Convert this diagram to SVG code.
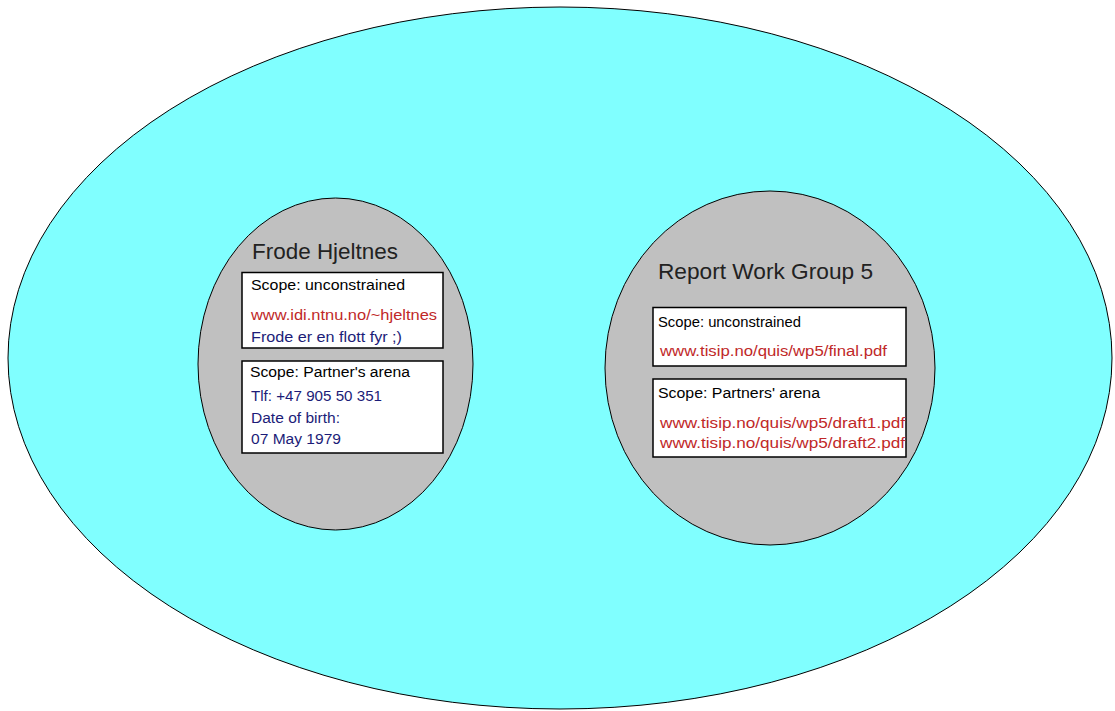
<svg xmlns="http://www.w3.org/2000/svg" width="1115" height="711" viewBox="0 0 1115 711">
<style>
.bg{fill:#ffffff}
.outer{fill:#80ffff;stroke:#000;stroke-width:1}
.inner{fill:#c0c0c0;stroke:#000;stroke-width:1}
.box{fill:#fff;stroke:#000;stroke-width:1.5}
text{font-family:"Liberation Sans",Arial,sans-serif}
.title{font-size:22px;fill:#222}
.t{font-size:15.5px;fill:#000}
.r{font-size:15.5px;fill:#c02828}
.b{font-size:15.5px;fill:#1c1c78}
</style>
<rect class="bg" x="0" y="0" width="1115" height="711"/>
<g id="domain">
<ellipse class="outer" cx="560" cy="358" rx="552" ry="351"/>
</g>
<g id="connectors"/>
<g id="frode">
<ellipse class="inner" cx="335.5" cy="364" rx="137.5" ry="166"/>
<text class="title" x="252" y="259" textLength="146" lengthAdjust="spacingAndGlyphs">Frode Hjeltnes</text>
<rect class="box" x="242" y="272.5" width="201" height="75.5"/>
<text class="t" x="251" y="290" textLength="154" lengthAdjust="spacingAndGlyphs">Scope: unconstrained</text>
<text class="r" x="251" y="320" textLength="186" lengthAdjust="spacingAndGlyphs">www.idi.ntnu.no/~hjeltnes</text>
<text class="b" x="251" y="342" textLength="151" lengthAdjust="spacingAndGlyphs">Frode er en flott fyr ;)</text>
<rect class="box" x="242" y="361" width="201" height="92"/>
<text class="t" x="250" y="377" textLength="160" lengthAdjust="spacingAndGlyphs">Scope: Partner's arena</text>
<text class="b" x="251" y="401" textLength="131" lengthAdjust="spacingAndGlyphs">Tlf: +47 905 50 351</text>
<text class="b" x="251" y="423" textLength="89" lengthAdjust="spacingAndGlyphs">Date of birth:</text>
<text class="b" x="251" y="444" textLength="90" lengthAdjust="spacingAndGlyphs">07 May 1979</text>
</g>
<g id="report">
<ellipse class="inner" cx="770" cy="368" rx="165" ry="177"/>
<text class="title" x="658" y="279" textLength="215" lengthAdjust="spacingAndGlyphs">Report Work Group 5</text>
<rect class="box" x="653" y="307.5" width="253" height="58.5"/>
<text class="t" x="658" y="327" textLength="143" lengthAdjust="spacingAndGlyphs">Scope: unconstrained</text>
<text class="r" x="660" y="356" textLength="227" lengthAdjust="spacingAndGlyphs">www.tisip.no/quis/wp5/final.pdf</text>
<rect class="box" x="653" y="379" width="253" height="78"/>
<text class="t" x="658" y="398" textLength="162" lengthAdjust="spacingAndGlyphs">Scope: Partners' arena</text>
<text class="r" x="660" y="428" textLength="245" lengthAdjust="spacingAndGlyphs">www.tisip.no/quis/wp5/draft1.pdf</text>
<text class="r" x="660" y="448" textLength="245" lengthAdjust="spacingAndGlyphs">www.tisip.no/quis/wp5/draft2.pdf</text>
</g>
</svg>
